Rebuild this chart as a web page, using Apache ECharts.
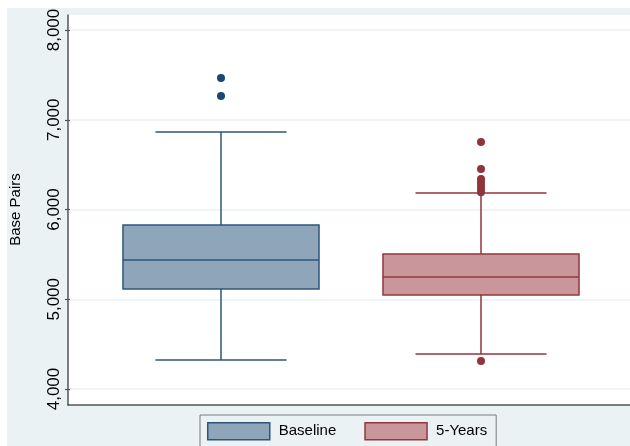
<!DOCTYPE html>
<html><head><meta charset="utf-8">
<script src="https://cdn.jsdelivr.net/npm/echarts@6/dist/echarts.min.js"></script>
<style>html,body{margin:0;padding:0;background:#fff}#c{width:630px;height:446px}</style>
</head><body><div id="c"></div>
<script>
const categories = ['Baseline', '5-Years'];
// min, Q1, median, Q3, upper whisker
const baselineStats = [4323, 5114, 5437, 5827, 6864];
const fiveYearStats = [4390, 5047, 5248, 5504, 6184];
const baselineOutliers = [7265, 7465];
const fiveYearOutliers = [4312, 6192, 6229, 6266, 6303, 6340, 6451, 6752];
const yTicks = [4000, 5000, 6000, 7000, 8000];

const FONT = '"Liberation Sans", Arial, sans-serif';
const BG = '#eaf2f3';
const styles = {
  'Baseline': {fill: '#8fa5ba', stroke: '#2c5679', dot: '#1a476f'},
  '5-Years': {fill: '#c9979b', stroke: '#93363d', dot: '#90353b'}
};

function makeRender(st) {
  return function (params, api) {
    const cat = api.value(0);
    const band = api.size([1, 0])[0];
    const boxW = band * 0.754, capW = band * 0.504;
    const c = cat;
    const pMin = api.coord([c, api.value(1)]);
    const pQ1 = api.coord([c, api.value(2)]);
    const pMed = api.coord([c, api.value(3)]);
    const pQ3 = api.coord([c, api.value(4)]);
    const pMax = api.coord([c, api.value(5)]);
    const x = pMed[0];
    const ls = {stroke: st.stroke, lineWidth: 1.5, fill: null};
    return {
      type: 'group',
      children: [
        {type: 'line', shape: {x1: x, y1: pQ3[1], x2: x, y2: pMax[1]}, style: ls},
        {type: 'line', shape: {x1: x, y1: pQ1[1], x2: x, y2: pMin[1]}, style: ls},
        {type: 'line', shape: {x1: x - capW / 2, y1: pMax[1], x2: x + capW / 2, y2: pMax[1]}, style: ls},
        {type: 'line', shape: {x1: x - capW / 2, y1: pMin[1], x2: x + capW / 2, y2: pMin[1]}, style: ls},
        {type: 'rect', shape: {x: x - boxW / 2, y: pQ3[1], width: boxW, height: pQ1[1] - pQ3[1]},
          style: {fill: st.fill, stroke: st.stroke, lineWidth: 1.5}},
        {type: 'line', shape: {x1: x - boxW / 2, y1: pMed[1], x2: x + boxW / 2, y2: pMed[1]}, style: ls}
      ]
    };
  };
}

const yMin = yTicks[0], yMax = yTicks[yTicks.length - 1];

const chart = echarts.init(document.getElementById('c'), null, {renderer: 'canvas'});
chart.setOption({
  backgroundColor: '#fff',
  animation: false,
  textStyle: {fontFamily: FONT},
  graphic: [{type: 'rect', z: -10, shape: {x: 7, y: 8, width: 640, height: 450}, style: {fill: BG}, silent: true}],
  grid: [
    {left: 68, right: 0, top: 15, bottom: 41, show: true, backgroundColor: '#fff', borderWidth: 0},
    {left: 68, right: 0, top: 30, bottom: 57},
    {left: 91, right: 19, top: 30, bottom: 57}
  ],
  xAxis: [
    {gridIndex: 0, type: 'value', min: 0, max: 1, axisLine: {show: true, lineStyle: {color: '#555', width: 1.5}},
      axisTick: {show: false}, axisLabel: {show: false}, splitLine: {show: false}},
    {gridIndex: 1, type: 'category', data: categories, show: false},
    {gridIndex: 2, type: 'category', data: categories, show: false}
  ],
  yAxis: [
    {gridIndex: 0, type: 'value', min: 0, max: 1, axisLine: {show: true, lineStyle: {color: '#555', width: 1.5}},
      axisTick: {show: false}, axisLabel: {show: false}, splitLine: {show: false}},
    {gridIndex: 1, type: 'value', min: yMin, max: yMax, interval: 1000,
      axisLine: {show: false},
      axisTick: {show: true, length: 5, lineStyle: {color: '#555', width: 1.2}},
      axisLabel: {rotate: 90, margin: 7, fontSize: 17, color: '#000', fontFamily: FONT,
        formatter: v => v.toLocaleString('en-US')},
      splitLine: {show: true, lineStyle: {color: BG, width: 1.5}},
      name: 'Base Pairs', nameLocation: 'middle', nameRotate: 90, nameGap: 47,
      nameTextStyle: {fontSize: 15, color: '#000', fontFamily: FONT}},
    {gridIndex: 2, type: 'value', min: yMin, max: yMax, show: false, splitLine: {show: false}}
  ],
  legend: {
    left: 200, top: 415, orient: 'horizontal',
    padding: [7, 9, 14, 7], itemGap: 28, itemWidth: 62, itemHeight: 17,
    borderColor: '#7a7a7a', borderWidth: 1, backgroundColor: BG,
    textStyle: {fontSize: 15, color: '#000', fontFamily: FONT, padding: [0, 0, 0, 4]},
    selectedMode: false,
    data: categories.map(n => ({name: n, icon: 'rect',
      itemStyle: {color: styles[n].fill, borderColor: styles[n].stroke, borderWidth: 1.5}}))
  },
  series: [
    {name: 'Baseline', type: 'custom', xAxisIndex: 2, yAxisIndex: 2,
      renderItem: makeRender(styles['Baseline']), encode: {x: 0, y: [1, 2, 3, 4, 5]},
      itemStyle: {color: styles['Baseline'].fill},
      data: [[0].concat(baselineStats)]},
    {name: '5-Years', type: 'custom', xAxisIndex: 2, yAxisIndex: 2,
      renderItem: makeRender(styles['5-Years']), encode: {x: 0, y: [1, 2, 3, 4, 5]},
      itemStyle: {color: styles['5-Years'].fill},
      data: [[1].concat(fiveYearStats)]},
    {name: 'Baseline', type: 'scatter', xAxisIndex: 2, yAxisIndex: 2, symbolSize: 8,
      itemStyle: {color: styles['Baseline'].dot, opacity: 1},
      data: baselineOutliers.map(v => [0, v])},
    {name: '5-Years', type: 'scatter', xAxisIndex: 2, yAxisIndex: 2, symbolSize: 8,
      itemStyle: {color: styles['5-Years'].dot, opacity: 1},
      data: fiveYearOutliers.map(v => [1, v])}
  ]
});
</script></body></html>
